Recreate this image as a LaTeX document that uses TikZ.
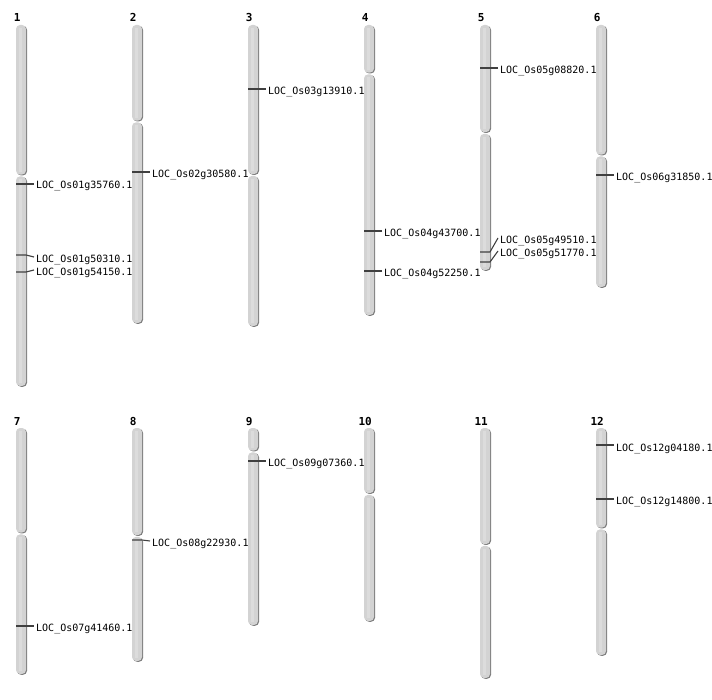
\documentclass[tikz,border=0pt]{standalone}
\usepackage{fontspec}
\setmonofont{DejaVu Sans Mono}
\definecolor{armshadowc}{HTML}{7C7C7C}
\definecolor{armbodyc}{HTML}{D3D3D3}
\definecolor{armhic}{HTML}{DCDCDC}
\definecolor{mkc}{HTML}{404040}
\tikzset{
  armshadow/.style={fill=armshadowc, rounded corners=4pt},
  armbody/.style={fill=armbodyc, rounded corners=4pt},
  armhi/.style={fill=armhic},
  chrlab/.style={font=\ttfamily\bfseries\fontsize{11}{13}\selectfont, inner sep=0pt, anchor=base},
  genelab/.style={font=\ttfamily\fontsize{10}{12}\selectfont, inner sep=0pt, anchor=base west},
  mkline/.style={draw=mkc, line width=1.1pt},
}
% arm: x, top, bottom
\newcommand\chrarm[3]{%
  \fill[armshadow] (#1+1,#2+0.8) rectangle (#1+11,#3+0.8);
  \fill[armbody] (#1,#2) rectangle (#1+10,#3);
  \fill[armhi] (#1+2.5,#2+3) rectangle (#1+6,#3-3);
}
% chromosome: name, number, x, top, centromere, bottom, label baseline
\newcommand\chrom[7]{%
  \chrarm{#3}{#4}{#5-0.9}
  \chrarm{#3}{#5+0.9}{#6}
  \node[chrlab] (#1) at (#3+1.2,#7) {#2};
}
% marker: name, x, y on chromosome, y of connector end, y of label centre, text
\newcommand\gmark[6]{%
  \coordinate (#1-a) at (#2,#3);
  \coordinate (#1-b) at (#2+10,#3);
  \coordinate (#1-c) at (#2+18,#4);
  \node[genelab] (#1) at (#2+20,#5+4.4) {#6};
  \draw[mkline] (#1-a) -- (#1-b) -- (#1-c);
}
\begin{document}
\begin{tikzpicture}[x=1pt,y=-1pt]
\useasboundingbox (0,0) rectangle (712,700);
% row 1
\chrom{c1}{1}{16}{25}{175.5}{386}{22}
\chrom{c2}{2}{132}{25}{121.5}{323}{22}
\chrom{c3}{3}{248}{25}{175}{326}{22}
\chrom{c4}{4}{364}{25}{73.5}{315}{22}
\chrom{c5}{5}{480}{25}{133}{270}{22}
\chrom{c6}{6}{596}{25}{155.5}{287}{22}
% row 2
\chrom{c7}{7}{16}{428}{533.5}{674}{425}
\chrom{c8}{8}{132}{428}{536}{661}{425}
\chrom{c9}{9}{248}{428}{451.5}{625}{425}
\chrom{c10}{10}{364}{428}{494}{621}{425}
\chrom{c11}{11}{480}{428}{545}{678}{425}
\chrom{c12}{12}{596}{428}{528.5}{655}{425}
% markers
\gmark{g1a}{16}{184}{184}{184.5}{LOC\_Os01g35760.1}
\gmark{g1b}{16}{255}{257}{258}{LOC\_Os01g50310.1}
\gmark{g1c}{16}{272}{270}{271}{LOC\_Os01g54150.1}
\gmark{g2a}{132}{172}{172}{173}{LOC\_Os02g30580.1}
\gmark{g3a}{248}{89}{89}{90}{LOC\_Os03g13910.1}
\gmark{g4a}{364}{231}{231}{232}{LOC\_Os04g43700.1}
\gmark{g4b}{364}{271}{271}{272}{LOC\_Os04g52250.1}
\gmark{g5a}{480}{68}{68}{69}{LOC\_Os05g08820.1}
\gmark{g5b}{480}{252}{238}{239}{LOC\_Os05g49510.1}
\gmark{g5c}{480}{262}{251}{252}{LOC\_Os05g51770.1}
\gmark{g6a}{596}{175}{175}{176}{LOC\_Os06g31850.1}
\gmark{g7a}{16}{626}{626}{627}{LOC\_Os07g41460.1}
\gmark{g8a}{132}{540}{541}{542}{LOC\_Os08g22930.1}
\gmark{g9a}{248}{461}{461}{462}{LOC\_Os09g07360.1}
\gmark{g12a}{596}{445}{445}{447}{LOC\_Os12g04180.1}
\gmark{g12b}{596}{499}{499}{500}{LOC\_Os12g14800.1}
\end{tikzpicture}
\end{document}
